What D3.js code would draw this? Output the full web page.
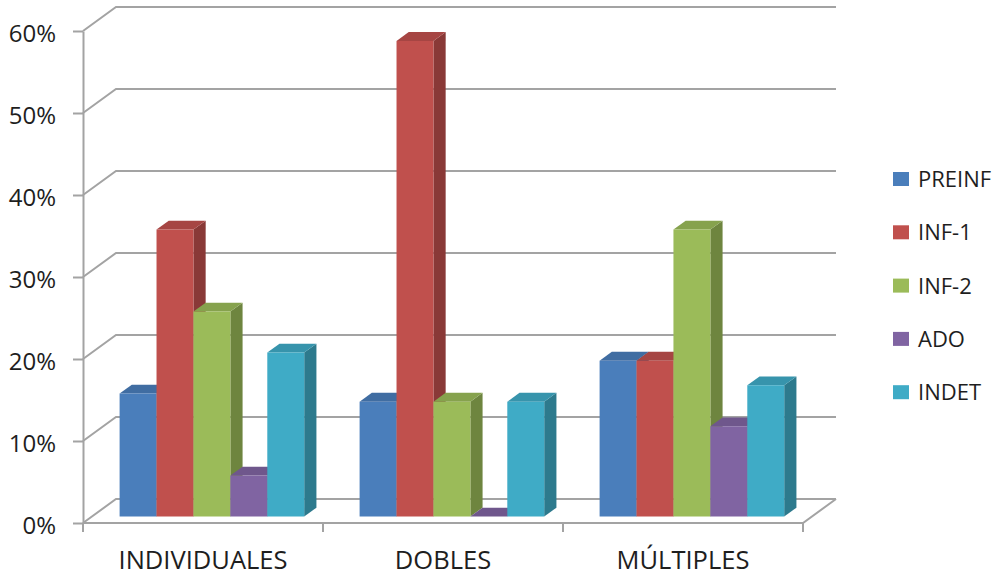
<!DOCTYPE html>
<html>
<head>
<meta charset="utf-8">
<script src="https://cdnjs.cloudflare.com/ajax/libs/d3/7.8.5/d3.min.js"></script>
<style>
  body { margin: 0; background: #fff; }
  text { font-family: "Open Sans", sans-serif; fill: #1e1e1e; }
</style>
</head>
<body>
<svg id="chart" width="1005" height="577"></svg>
<script>
// chart data
const categories = ["INDIVIDUALES", "DOBLES", "MÚLTIPLES"];
const seriesNames = ["PREINF", "INF-1", "INF-2", "ADO", "INDET"];
const seriesColors = ["#4A7EBB", "#C0504D", "#9BBB59", "#8064A2", "#3FABC6"];
const preinf = [0.15, 0.14, 0.19];
const inf1 = [0.35, 0.58, 0.19];
const inf2 = [0.25, 0.14, 0.35];
const ado = [0.05, 0.0, 0.11];
const indet = [0.20, 0.14, 0.16];
const seriesValues = [preinf, inf1, inf2, ado, indet];
const yTicks = [0, 0.1, 0.2, 0.3, 0.4, 0.5, 0.6];

const svg = d3.select("#chart");

// front plane scales
const x = d3.scaleBand().domain(categories).range([83, 803]);
const xs = d3.scaleBand().domain(seriesNames).range([0, x.bandwidth()]).paddingOuter(0.75);
const y = d3.scaleLinear().domain([0, 0.6]).range([523, 31]);

// depth projection of the 3D box
const depthX = 33, depthY = -24;
const barFront = 0.27, barBack = 0.64;
const proj = (px, v, d) => [px + depthX * d, y(v) + depthY * d];

const grid = svg.append("g")
    .attr("stroke", "#a3a3a3")
    .attr("stroke-width", 2)
    .attr("fill", "none");

// back wall gridlines + left wall diagonals
yTicks.forEach(t => {
    const a = proj(83, t, 0), b = proj(83, t, 1), c = proj(803, t, 1);
    grid.append("polyline").attr("points", [a, b, c].map(p => p.join(",")).join(" "));
});

// floor front edge and right edge
{
    const a = proj(83, 0, 0), b = proj(803, 0, 0), c = proj(803, 0, 1);
    grid.append("polyline").attr("points", [a, b, c].map(p => p.join(",")).join(" "));
}

// category boundary ticks
const bounds = categories.map(c => x(c)).concat([x.range()[1]]);
grid.selectAll("line.ctick")
    .data(bounds)
    .join("line")
    .attr("x1", d => d).attr("x2", d => d)
    .attr("y1", y(0)).attr("y2", y(0) + 9);

// value axis
const yAxis = svg.append("g")
    .attr("transform", "translate(83,0)")
    .call(d3.axisLeft(y).tickValues(yTicks).tickFormat(d3.format(".0%")).tickSize(10).tickSizeOuter(0).tickPadding(17));
yAxis.select(".domain").attr("stroke", "#a3a3a3").attr("stroke-width", 2);
yAxis.selectAll(".tick line").attr("stroke", "#a3a3a3").attr("stroke-width", 2);
yAxis.selectAll(".tick text")
    .attr("font-size", 24)
    .attr("font-family", "Open Sans, sans-serif")
    .attr("fill", "#1e1e1e")
    .attr("dy", "0.45em");

// category labels
const xAxis = svg.append("g")
    .attr("transform", "translate(0," + y(0) + ")")
    .call(d3.axisBottom(x).tickSize(0).tickPadding(28));
xAxis.select(".domain").remove();
xAxis.selectAll(".tick text")
    .attr("font-size", 25.5)
    .attr("font-family", "Open Sans, sans-serif")
    .attr("fill", "#1e1e1e");

// 3D bars, drawn left to right
const bars = [];
categories.forEach((c, ci) => {
    seriesNames.forEach((s, si) => {
        bars.push({ cat: c, series: s, value: seriesValues[si][ci], color: seriesColors[si] });
    });
});

const pts = arr => arr.map(p => p.join(",")).join(" ");
const barG = svg.append("g");
bars.forEach(b => {
    const x0 = x(b.cat) + xs(b.series);
    const x1 = x0 + xs.bandwidth();
    const g = barG.append("g");
    const base = d3.color(b.color);
    // right side
    g.append("polygon")
        .attr("points", pts([proj(x1, 0, barFront), proj(x1, 0, barBack), proj(x1, b.value, barBack), proj(x1, b.value, barFront)]))
        .attr("fill", base.darker(0.95));
    // top
    g.append("polygon")
        .attr("points", pts([proj(x0, b.value, barFront), proj(x1, b.value, barFront), proj(x1, b.value, barBack), proj(x0, b.value, barBack)]))
        .attr("fill", base.darker(0.4));
    // front
    g.append("polygon")
        .attr("points", pts([proj(x0, 0, barFront), proj(x1, 0, barFront), proj(x1, b.value, barFront), proj(x0, b.value, barFront)]))
        .attr("fill", base);
});

// legend
const legend = svg.append("g").attr("transform", "translate(893,179)");
const items = legend.selectAll("g")
    .data(seriesNames)
    .join("g")
    .attr("transform", (d, i) => "translate(0," + i * 53.3 + ")");
items.append("rect")
    .attr("x", 0).attr("y", -7)
    .attr("width", 16).attr("height", 14)
    .attr("fill", (d, i) => seriesColors[i]);
items.append("text")
    .attr("x", 25).attr("y", 0).attr("dy", "0.36em")
    .attr("font-size", 22)
    .text(d => d);
</script>
</body>
</html>
